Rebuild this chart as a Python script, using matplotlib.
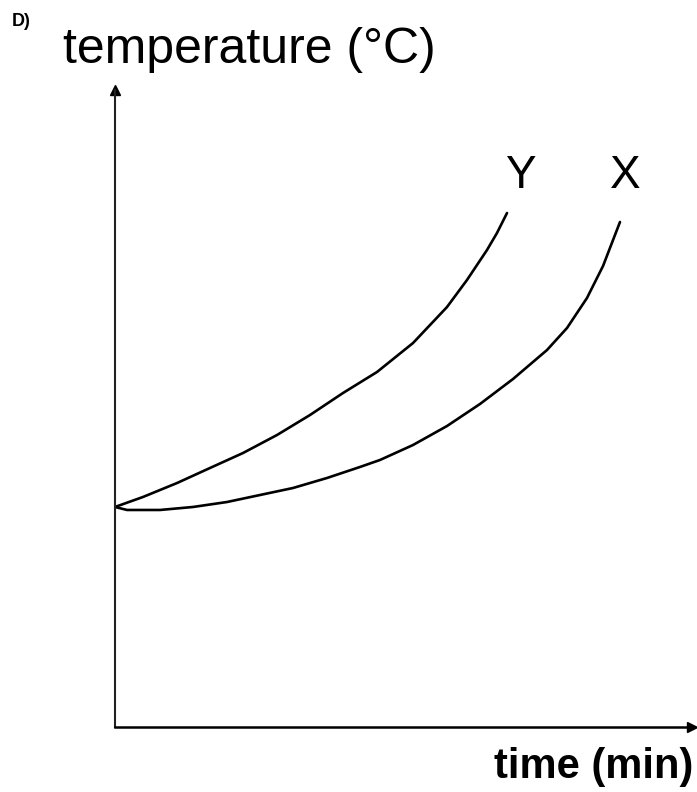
"""
Temperature vs time sketch, curves X and Y
"""
import matplotlib
matplotlib.use("Agg")
import matplotlib.pyplot as plt

plt.rcParams['font.family'] = ['Liberation Sans', 'DejaVu Sans']

# curve Y (heats faster)
time_y = [0, 0.485, 1.075, 1.646, 2.218, 2.808, 3.380, 3.951, 4.541,
          5.165, 5.754, 6.100, 6.447, 6.620, 6.794]
temp_y = [3.454, 3.611, 3.830, 4.066, 4.301, 4.584, 4.898, 5.243, 5.573,
          6.028, 6.593, 7.017, 7.488, 7.755, 8.069]

# curve X (heats slower)
time_x = [0, 0.208, 0.780, 1.352, 1.941, 2.513, 3.085, 3.674, 4.246, 4.593,
          5.165, 5.754, 6.326, 6.898, 7.487, 7.834, 8.180, 8.458, 8.752]
temp_x = [3.454, 3.407, 3.407, 3.454, 3.532, 3.642, 3.752, 3.909, 4.082, 4.192,
          4.427, 4.725, 5.071, 5.463, 5.918, 6.264, 6.735, 7.237, 7.928]

labels = ["Y", "X"]


def main():
    W, H = 697, 792
    fig = plt.figure(figsize=(W / 100, H / 100), dpi=100)

    # axes box in pixels: left 115, right 692, bottom 727, top 90
    ax = fig.add_axes([115 / W, (H - 727) / H, (692 - 115) / W, (727 - 90) / H])
    ax.set_xlim(0, 10)
    ax.set_ylim(0, 10)

    ax.plot(time_y, temp_y, color="black", lw=1.9, solid_capstyle="round")
    ax.plot(time_x, temp_x, color="black", lw=1.9, solid_capstyle="round")

    # curve labels above the ends
    label_h = temp_y[-1] + 0.58
    ax.text(time_y[-1] + 0.23, label_h, labels[0], fontsize=33,
            ha="center", va="center")
    ax.text(time_x[-1] + 0.09, label_h, labels[1], fontsize=33,
            ha="center", va="center")

    for side in ["top", "right"]:
        ax.spines[side].set_visible(False)
    ax.spines["left"].set_linewidth(1.5)
    ax.spines["left"].set_color("#222222")
    ax.spines["bottom"].set_linewidth(1.8)
    ax.set_xticks([])
    ax.set_yticks([])

    # arrow heads
    ax.plot(1, 0, ">k", ms=7, transform=ax.transAxes, clip_on=False)
    ax.plot(0, 1, "^k", ms=7, transform=ax.transAxes, clip_on=False)

    fig.text(12 / W, 1 - 22 / H, "D)", fontsize=13, fontweight="bold",
             ha="left", va="center")
    fig.text(63 / W, 1 - 50 / H, "temperature (°C)", fontsize=36,
             ha="left", va="center")
    fig.text(693 / W, 1 - 767 / H, "time (min)", fontsize=30, fontweight="bold",
             ha="right", va="center")

    fig.savefig("out.png", dpi=100)


if __name__ == "__main__":
    main()
